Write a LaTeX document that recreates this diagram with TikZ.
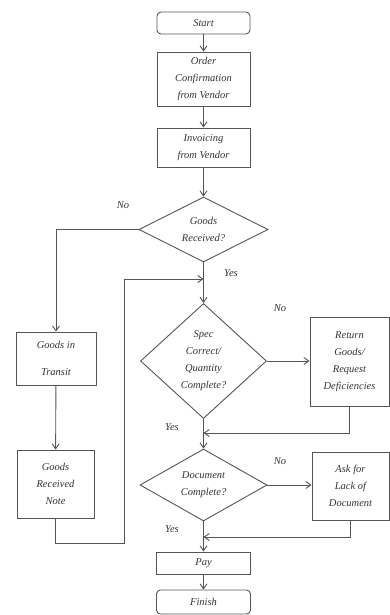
\documentclass[tikz,border=0pt]{standalone}
\usepackage{fontspec}
\setmainfont{Liberation Serif}
\usetikzlibrary{shapes.geometric,arrows.meta}

\definecolor{ink}{HTML}{555555}
\definecolor{txtc}{HTML}{333333}

\tikzset{
  base/.style={draw=ink, line width=0.9pt, inner sep=0pt, text=txtc,
    font=\fontsize{10.5}{17}\selectfont\itshape, align=center},
  term/.style={base, rectangle, rounded corners=4pt},
  procbox/.style={base, rectangle},
  decision/.style={draw=ink, line width=0.9pt, diamond, inner sep=0pt},
  dtext/.style={text=txtc, font=\fontsize{10.5}{17}\selectfont\itshape, align=center, inner sep=0pt},
  lbl/.style={text=txtc, font=\fontsize{10.5}{12}\selectfont\itshape, inner sep=0pt},
  flow/.style={draw=ink, line width=0.9pt, -{Straight Barb[length=5pt,width=7pt]}},
  wire/.style={draw=ink, line width=0.9pt}
}

\begin{document}
\begin{tikzpicture}[x=1pt, y=-1pt]
\useasboundingbox (0,0) rectangle (390,615);

% main column
\node[term, minimum width=93pt, minimum height=22pt] (start) at (203.5,23) {Start};
\node[procbox, minimum width=93pt, minimum height=54pt] (order) at (203.5,79) {Order\\Confirmation\\from Vendor};
\node[procbox, minimum width=93pt, minimum height=39pt] (invoice) at (203.5,147.5) {Invoicing\\from Vendor};

\node[decision, minimum width=129pt, minimum height=65pt] (goods) at (203.5,229.5) {};
\node[dtext] (goodsT) at (goods) {Goods\\Received?};

\node[decision, minimum width=126pt, minimum height=115pt] (spec) at (203.5,361) {};
\node[dtext] (specT) at (spec) {Spec\\Correct/\\Quantity\\Complete?};

\node[decision, minimum width=127pt, minimum height=72pt] (doc) at (203.5,485) {};
\node[dtext] (docT) at (doc) {Document\\Complete?};

\node[procbox, minimum width=94pt, minimum height=22pt] (pay) at (203.5,563) {Pay};
\node[term, minimum width=94pt, minimum height=24pt] (finish) at (203.5,602) {Finish};

% left branch
\node[procbox, minimum width=80pt, minimum height=53pt] (transit) at (56,358.5) {Goods in\\[10pt]Transit};
\node[procbox, minimum width=77pt, minimum height=68pt] (grn) at (55.5,484) {Goods\\Received\\Note};

% right branch
\node[procbox, minimum width=79pt, minimum height=89pt] (ret) at (349.5,361.5) {Return\\Goods/\\Request\\Deficiencies};
\node[procbox, minimum width=77pt, minimum height=68pt] (ask) at (350.5,486) {Ask for\\Lack of\\Document};

% joining points on the main column
\coordinate (j1) at (203.5,279);
\coordinate (j2) at (203.5,433);
\coordinate (j3) at (203.5,537);
\coordinate (lp) at (124,543);

% connectors
\draw[flow] (start) -- (order);
\draw[flow] (order) -- (invoice);
\draw[flow] (invoice) -- (goods.north);
\draw[flow] (goods.west) -| (transit.north);
\draw[flow] (goods.south) -- (spec.north);
\draw[flow] (transit) -- (grn);
\draw[flow] (grn.south) |- (lp) |- (j1);
\draw[flow] (spec.east) -- (spec.east -| ret.west);
\draw[flow] (ret.south) |- (j2);
\draw[flow] (spec.south) -- (doc.north);
\draw[flow] (doc.east) -- (doc.east -| ask.west);
\draw[flow] (ask.south) |- (j3);
\draw[flow] (doc.south) -- (pay.north);
\draw[flow] (pay) -- (finish);

% branch labels
\node[lbl] (noA) at (123,205) {No};
\node[lbl] (yesA) at (231,273) {Yes};
\node[lbl] (noB) at (280,308) {No};
\node[lbl] (yesB) at (172,427) {Yes};
\node[lbl] (noC) at (280,461) {No};
\node[lbl] (yesC) at (172,529) {Yes};
\end{tikzpicture}
\end{document}
